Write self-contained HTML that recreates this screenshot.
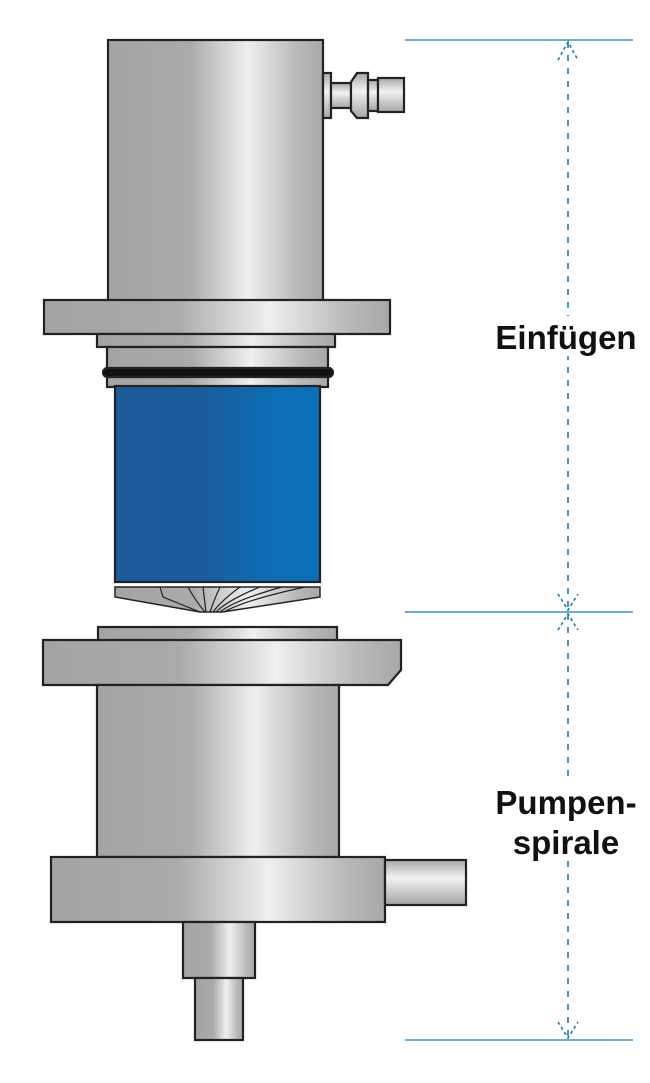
<!DOCTYPE html>
<html><head><meta charset="utf-8"><style>
html,body{margin:0;padding:0;background:#fff;}
svg{display:block}
text{font-family:"Liberation Sans",sans-serif;font-weight:bold;fill:#111;}
</style></head><body>
<svg width="650" height="1083" viewBox="0 0 650 1083" xmlns="http://www.w3.org/2000/svg">
<defs>
<linearGradient id="m" x1="0" x2="1" y1="0" y2="0">
<stop offset="0" stop-color="#a4a4a4"/><stop offset="0.38" stop-color="#aaaaaa"/>
<stop offset="0.65" stop-color="#efefef"/><stop offset="0.88" stop-color="#b9b9b9"/><stop offset="1" stop-color="#a8a8a8"/>
</linearGradient>
<linearGradient id="mv" x1="0" x2="0" y1="0" y2="1">
<stop offset="0" stop-color="#a8a8a8"/><stop offset="0.4" stop-color="#f2f2f2"/><stop offset="1" stop-color="#a4a4a4"/>
</linearGradient>
<linearGradient id="b" x1="0" x2="1" y1="0" y2="0">
<stop offset="0" stop-color="#1d5a9a"/><stop offset="0.45" stop-color="#1a5d9d"/><stop offset="0.75" stop-color="#0e6db3"/><stop offset="1" stop-color="#0870b8"/>
</linearGradient>
</defs>
<g stroke="#222" stroke-width="2.2">
<rect x="108" y="40" width="215" height="262" fill="url(#m)"/>
<rect x="323" y="73" width="8" height="45" fill="url(#mv)"/>
<rect x="331" y="83" width="20" height="25" fill="url(#mv)"/>
<path d="M351 82 L357 73 L368 73 L368 118 L357 118 L351 111 Z" fill="url(#mv)"/>
<rect x="368" y="80" width="10" height="31" fill="url(#mv)"/>
<rect x="378" y="78" width="26" height="34" fill="url(#mv)"/>
<rect x="44" y="300" width="346" height="34" fill="url(#m)"/>
<rect x="97" y="334" width="238" height="13" fill="url(#m)"/>
<rect x="107" y="347" width="221" height="40" fill="url(#m)"/>
<rect x="103" y="368" width="230" height="9" rx="4.5" fill="#111"/>
<rect x="115" y="386" width="205" height="196" fill="url(#b)"/>
<path d="M115 587 L320 587 L320 597 L222 612 L200 612 L115 597 Z" fill="url(#m)" stroke-width="1.5"/>
<g fill="none" stroke-width="1.2">
<path d="M160 587 L163 597 L200 612"/><path d="M188 587 Q195 600 205 612"/><path d="M203 587 L206 612"/>
<path d="M220 587 Q214 600 210 612"/><path d="M240 587 Q222 600 213 612"/><path d="M260 587 Q228 600 216 612"/>
<path d="M282 587 Q235 600 220 612"/><path d="M305 587 Q245 600 224 612"/>
</g>
<rect x="98" y="627" width="239" height="14" fill="url(#m)"/>
<path d="M43 640 L401 640 L401 670 L388 685 L43 685 Z" fill="url(#m)"/>
<rect x="97" y="685" width="242" height="172" fill="url(#m)"/>
<rect x="51" y="857" width="334" height="65" fill="url(#m)"/>
<rect x="385" y="860" width="81" height="45" fill="url(#mv)"/>
<rect x="183" y="922" width="72" height="56" fill="url(#m)"/>
<rect x="195" y="978" width="48" height="62" fill="url(#m)"/>
</g>
<g stroke="#1a7ab8" stroke-width="1.3">
<line x1="405" y1="40" x2="633" y2="40"/>
<line x1="405" y1="612" x2="633" y2="612"/>
<line x1="405" y1="1040" x2="633" y2="1040"/>
</g>
<g stroke="#1a7ab8" stroke-width="1.6" stroke-dasharray="6,7" fill="none">
<line x1="568" y1="42" x2="568" y2="610"/>
<line x1="568" y1="614" x2="568" y2="1038"/>
<path d="M558 60 L568 42 L578 60" stroke-dasharray="3,3"/>
<path d="M558 594 L568 610 L578 594" stroke-dasharray="3,3"/>
<path d="M558 630 L568 614 L578 630" stroke-dasharray="3,3"/>
<path d="M558 1022 L568 1038 L578 1022" stroke-dasharray="3,3"/>
</g>
<rect x="488" y="316" width="156" height="40" fill="#fff"/>
<rect x="488" y="780" width="156" height="80" fill="#fff"/>
<text x="566" y="349" font-size="33" text-anchor="middle">Einfügen</text>
<text x="566" y="814" font-size="33" text-anchor="middle">Pumpen-</text>
<text x="566" y="854" font-size="33" text-anchor="middle">spirale</text>
</svg>
</body></html>
